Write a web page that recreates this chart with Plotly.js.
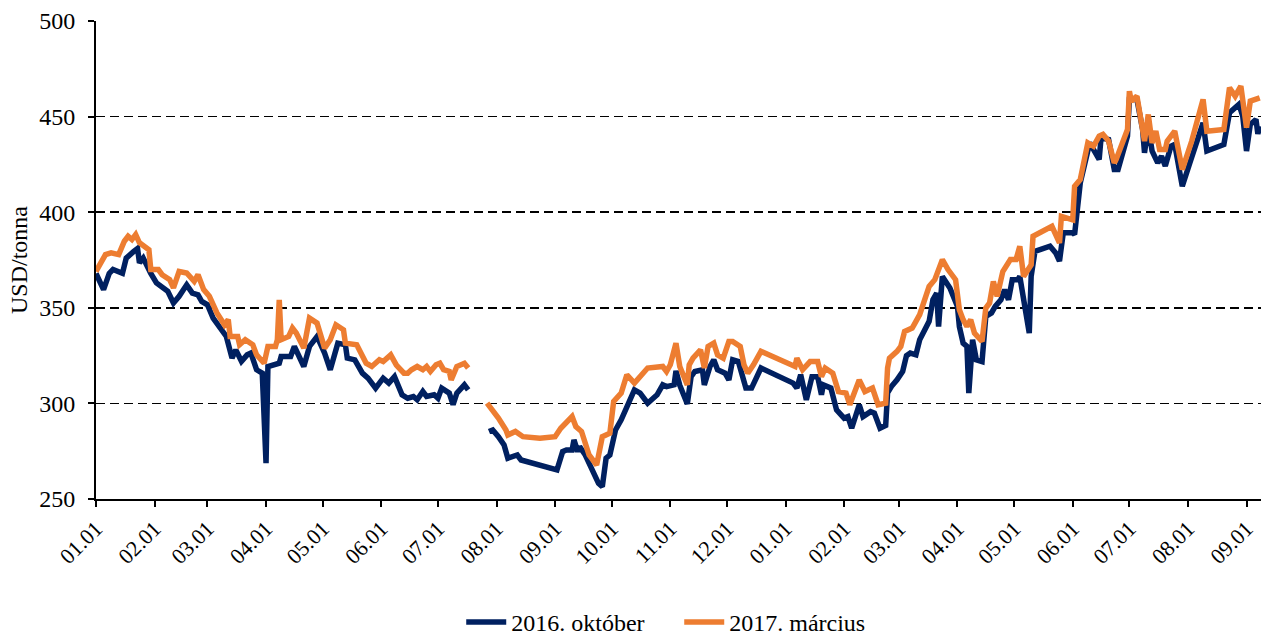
<!DOCTYPE html>
<html>
<head>
<meta charset="utf-8">
<script src="https://cdn.plot.ly/plotly-3.0.1.min.js"></script>
<style>html,body{margin:0;padding:0;background:#fff;}#chart{width:1261px;height:640px;}</style>
</head>
<body>
<div id="chart"></div>
<script>
const seriesNames = ["2016. október", "2017. március"];

const octDates = [
"2015-01-01","2015-01-05","2015-01-08","2015-01-10","2015-01-15","2015-01-17","2015-01-21","2015-01-23","2015-01-24","2015-01-26","2015-01-30",
"2015-02-02","2015-02-08","2015-02-11","2015-02-14","2015-02-18","2015-02-21","2015-02-24","2015-02-26",
"2015-03-01","2015-03-04","2015-03-08","2015-03-11","2015-03-14","2015-03-16","2015-03-19","2015-03-22","2015-03-24","2015-03-27","2015-03-30",
"2015-04-01","2015-04-02","2015-04-06","2015-04-08","2015-04-09","2015-04-14","2015-04-16","2015-04-18","2015-04-21","2015-04-24","2015-04-28",
"2015-05-02","2015-05-05","2015-05-09","2015-05-13","2015-05-14","2015-05-18","2015-05-22","2015-05-25","2015-05-29",
"2015-06-02","2015-06-05","2015-06-08","2015-06-12","2015-06-15","2015-06-18","2015-06-20","2015-06-23","2015-06-25","2015-06-29",
"2015-07-01","2015-07-03","2015-07-07","2015-07-09","2015-07-11","2015-07-15","2015-07-17","2015-07-22","2015-07-28","2015-07-30",
"2015-08-02","2015-08-05","2015-08-07","2015-08-10","2015-08-12","2015-08-14",
"2015-09-02","2015-09-05","2015-09-07","2015-09-10","2015-09-11","2015-09-13","2015-09-14","2015-09-17","2015-09-21","2015-09-24","2015-09-26","2015-09-28","2015-09-30",
"2015-10-03","2015-10-06","2015-10-08","2015-10-11","2015-10-13","2015-10-16","2015-10-20","2015-10-25","2015-10-28","2015-10-30",
"2015-11-03","2015-11-04","2015-11-06","2015-11-10","2015-11-12","2015-11-14","2015-11-18","2015-11-19","2015-11-22","2015-11-24","2015-11-26","2015-11-30",
"2015-12-02","2015-12-04","2015-12-07","2015-12-11","2015-12-14","2015-12-19",
"2016-01-05","2016-01-07","2016-01-09","2016-01-12","2016-01-15","2016-01-18","2016-01-20","2016-01-21","2016-01-25","2016-01-28",
"2016-02-01","2016-02-03","2016-02-05","2016-02-09","2016-02-11","2016-02-15","2016-02-17","2016-02-20","2016-02-23","2016-02-24","2016-02-26","2016-02-29",
"2016-03-03","2016-03-05","2016-03-07","2016-03-10","2016-03-12","2016-03-17","2016-03-19","2016-03-21","2016-03-22","2016-03-24","2016-03-28",
"2016-04-01","2016-04-02","2016-04-04","2016-04-06","2016-04-07","2016-04-09","2016-04-11","2016-04-14","2016-04-16","2016-04-19","2016-04-21","2016-04-24","2016-04-26","2016-04-28","2016-04-30",
"2016-05-03","2016-05-04","2016-05-06","2016-05-09","2016-05-10","2016-05-12","2016-05-20","2016-05-23","2016-05-25","2016-05-27",
"2016-06-01","2016-06-02","2016-06-05","2016-06-10","2016-06-15","2016-06-16","2016-06-20","2016-06-23","2016-06-25","2016-06-30",
"2016-07-01","2016-07-05","2016-07-08","2016-07-09","2016-07-11","2016-07-13","2016-07-16","2016-07-18","2016-07-20","2016-07-23","2016-07-25","2016-07-29",
"2016-08-02","2016-08-09","2016-08-11","2016-08-20","2016-08-23","2016-08-28","2016-08-30",
"2016-09-01","2016-09-03","2016-09-06","2016-09-07","2016-09-08"
];
const octValues = [
368,359.5,368,370,368,376,379.5,381,373.5,376,368,
363,358.6,352.5,356,362,357.7,356.8,353.3,
351.6,344.6,339.4,335,323.7,328,322,325.4,326.3,317.6,315.8,
268.7,319.3,320.2,321,324.5,324.5,329.8,325.4,319.3,329.8,335,
326.3,317.6,331.5,330.7,323.7,322.8,315.8,313.2,308,
313.2,310.6,314,304.5,302.7,303.6,301.9,306.2,303.6,304.5,
302.7,308,305.4,299.3,305.4,309.7,307.1,null,285.3,286.1,
282.6,278.3,271.3,272.2,273,270.4,
265.2,274.8,275.6,275.6,280.9,274.8,277.4,273,265.2,258.2,256.5,271.3,273,
286.1,291.4,295.7,301.9,307.1,305.4,300.1,304.5,309.7,308.8,
309.7,317,309.5,299.7,314,316.7,317.6,309.7,319.3,322.8,317.6,315.8,
312.3,322.8,321.9,308,308,318.5,
310.6,308,315,301.9,314,314,304.5,309.7,308,296.6,
292.3,293.1,287,299.3,293.1,295.7,294.9,287,288.5,305.5,308.8,312.3,
316.7,325,326.3,325.4,333.3,342.9,354.2,357.7,340.2,366.4,360.4,
350.7,340.2,331.5,329.8,305.4,333.3,322.8,321.9,345.5,347.3,350.7,354.2,359.5,354.2,364.7,
364.7,366.4,356,336.8,366.4,379.5,382.2,378.7,374.4,389.2,
389.2,388.3,415.3,436.3,427.6,438.9,438,422.3,422.3,439.8,
459,459,443.3,431.1,445,432,425.8,429.3,424.1,434.5,435.4,413.6,
425.8,446.7,432,435.4,452,456.4,450.2,
432,445.9,448.5,441,445
];

const marDates = [
"2015-01-01","2015-01-06","2015-01-09","2015-01-13","2015-01-16","2015-01-18","2015-01-20","2015-01-22","2015-01-24","2015-01-27","2015-01-29","2015-01-30",
"2015-02-03","2015-02-05","2015-02-09","2015-02-11","2015-02-14","2015-02-18","2015-02-22","2015-02-24","2015-02-27",
"2015-03-02","2015-03-06","2015-03-10","2015-03-12","2015-03-13","2015-03-17","2015-03-18","2015-03-21","2015-03-25","2015-03-27","2015-03-31",
"2015-04-02","2015-04-06","2015-04-07","2015-04-08","2015-04-09","2015-04-13","2015-04-15","2015-04-17","2015-04-21","2015-04-24","2015-04-28",
"2015-05-02","2015-05-05","2015-05-08","2015-05-12","2015-05-13","2015-05-19","2015-05-24","2015-05-27","2015-05-31",
"2015-06-02","2015-06-06","2015-06-09","2015-06-13","2015-06-15","2015-06-17","2015-06-20","2015-06-23","2015-06-25","2015-06-27","2015-06-30",
"2015-07-02","2015-07-04","2015-07-07","2015-07-08","2015-07-11","2015-07-15","2015-07-17","2015-07-22","2015-07-27","2015-07-30",
"2015-08-02","2015-08-06","2015-08-07","2015-08-11","2015-08-15","2015-08-24",
"2015-09-01","2015-09-04","2015-09-10","2015-09-12","2015-09-15","2015-09-19","2015-09-23","2015-09-26","2015-09-30",
"2015-10-02","2015-10-06","2015-10-09","2015-10-13","2015-10-20","2015-10-28","2015-10-30",
"2015-11-01","2015-11-04","2015-11-06","2015-11-10","2015-11-11","2015-11-13","2015-11-17","2015-11-19","2015-11-21","2015-11-24","2015-11-26","2015-11-29",
"2015-12-02","2015-12-04","2015-12-08","2015-12-10","2015-12-12","2015-12-15","2015-12-19",
"2016-01-06","2016-01-07","2016-01-10","2016-01-14","2016-01-18","2016-01-20","2016-01-22","2016-01-26","2016-01-29",
"2016-02-02","2016-02-04","2016-02-07","2016-02-09","2016-02-12","2016-02-16","2016-02-19","2016-02-23","2016-02-24","2016-02-25","2016-02-29",
"2016-03-02","2016-03-04","2016-03-08","2016-03-09","2016-03-12","2016-03-17","2016-03-20","2016-03-24","2016-03-27","2016-03-31",
"2016-04-02","2016-04-04","2016-04-06","2016-04-08","2016-04-10","2016-04-14","2016-04-16","2016-04-18","2016-04-20","2016-04-22","2016-04-25","2016-04-29",
"2016-05-02","2016-05-04","2016-05-06","2016-05-10","2016-05-11","2016-05-21","2016-05-25","2016-05-26",
"2016-06-01","2016-06-02","2016-06-05","2016-06-09","2016-06-12","2016-06-15","2016-06-17","2016-06-20","2016-06-23","2016-06-24","2016-06-30",
"2016-07-01","2016-07-02","2016-07-05","2016-07-08","2016-07-09","2016-07-11","2016-07-13","2016-07-15","2016-07-17","2016-07-20","2016-07-21","2016-07-25","2016-07-29",
"2016-08-03","2016-08-09","2016-08-11","2016-08-20","2016-08-23","2016-08-26","2016-08-29",
"2016-09-01","2016-09-03","2016-09-08"
];
const marValues = [
369,377.8,378.7,377.8,384.8,387.4,385.7,388.3,384,382.2,380.4,370,
370,367.3,364.7,360.4,369,368.2,363.8,367.3,359.5,
356,347.3,341.1,343.8,335,335,330.7,333.3,330.7,325.4,321,
329.8,329.8,333.3,354.2,333.3,335,339.4,336.8,328.9,344.6,342,
328.9,333.3,341.1,338.5,331.5,330.7,321,319.3,322.8,
321.9,325.4,320,315.8,315.8,317.6,319.3,317.6,319.3,316.7,320.2,
321,317.6,316.7,312.3,319.3,321,318.5,null,300.1,296.6,
292.3,286.1,283.5,285.3,282.6,281.8,
282.6,287,293.1,287.9,285.3,273,267.8,282.6,284.4,
301,305.4,315,310.6,318.5,319.3,316.7,
320.2,331.5,319.3,309.7,320.2,323.7,328,318.5,329.8,331.5,325.4,323.7,
332.4,332.4,329.8,320.2,315.8,320.2,327.2,
319.3,323.7,317.6,321.9,321.9,314,318.5,315.8,306.2,
305.4,299.3,308,312.3,306.2,308,299.3,300.1,318.5,323.7,327.2,
329.8,337.6,339.4,341.1,346.4,361.2,364.7,375.2,370,364.7,
349,343.8,340.2,343.8,336.8,332.4,349.9,352.5,363.8,356,369,375.2,
375.2,382.2,366.4,372.5,387.4,392.6,383.9,397.8,
396,413.6,417.1,436.3,434.5,439.8,440.7,437.2,425.8,427.6,443.3,
463.3,458.1,460.7,443.3,437.2,451.1,436.3,442.4,432.8,432.8,437.2,442.4,422.3,
437.2,459,442.4,443.3,465.1,460.7,466,
444.2,458.1,459.8
];

const yTickVals = [250, 300, 350, 400, 450, 500];
const yTitle = "USD/tonna";

const serif = "Liberation Serif, Times New Roman, serif";
const traces = [
  {x: octDates, y: octValues, name: seriesNames[0], type: "scatter", mode: "lines",
   line: {color: "#002060", width: 5.5}},
  {x: marDates, y: marValues, name: seriesNames[1], type: "scatter", mode: "lines",
   line: {color: "#ED7D31", width: 5.5}}
];
const layout = {
  width: 1261, height: 640,
  margin: {l: 96, r: 0, t: 21, b: 141, autoexpand: false},
  paper_bgcolor: "#fff", plot_bgcolor: "#fff",
  font: {family: serif, color: "#000", size: 24},
  showlegend: true,
  legend: {orientation: "h", x: 0.3135, xanchor: "left", y: -0.258, yanchor: "middle",
           font: {family: serif, size: 24, color: "#000"}, itemwidth: 40, tracegroupgap: 0,
           entrywidth: 163, entrywidthmode: "pixels"},
  xaxis: {
    type: "date", range: ["2015-01-01", "2016-09-08 16:00"],
    tick0: "2015-01-01", dtick: "M1", tickformat: "%m.%d", tickangle: -45,
    showgrid: false, zeroline: false,
    showline: true, linecolor: "#000", linewidth: 2,
    ticks: "outside", ticklen: 6, tickwidth: 2, tickcolor: "#000",
    tickfont: {family: serif, size: 22, color: "#000"}
  },
  yaxis: {
    range: [250, 500], tickvals: yTickVals,
    showgrid: true, gridcolor: "#000", gridwidth: 1.7, griddash: "9px,5px",
    zeroline: false,
    showline: true, linecolor: "#000", linewidth: 2,
    ticks: "outside", ticklen: 6, tickwidth: 2, tickcolor: "#000",
    ticklabelstandoff: 8,
    tickfont: {family: serif, size: 24, color: "#000"},
    title: {text: yTitle, font: {family: serif, size: 24, color: "#000"}, standoff: 5}
  }
};
Plotly.newPlot("chart", traces, layout, {displayModeBar: false, staticPlot: true});
</script>
</body>
</html>
